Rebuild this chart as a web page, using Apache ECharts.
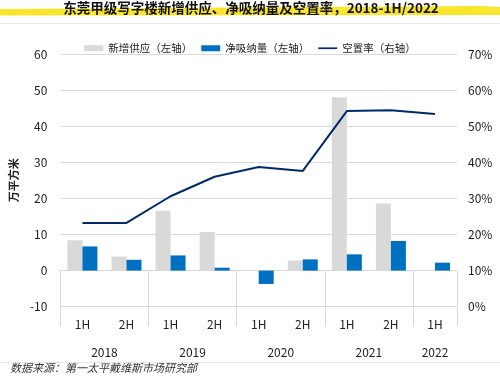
<!DOCTYPE html>
<html><head><meta charset="utf-8">
<script src="https://cdn.jsdelivr.net/npm/echarts@6/dist/echarts.min.js"></script>
<style>html,body{margin:0;padding:0;background:#fff}#c{width:500px;height:378px}</style>
</head><body><div id="c"></div>
<script>
const halves = ['1H','2H','1H','2H','1H','2H','1H','2H','1H'];
const years = ['2018','2019','2020','2021','2022'];
const yearSpans = [2,2,2,2,1];
const supply = [8.4, 3.9, 16.6, 10.7, 0, 2.8, 48.0, 18.6, 0];
const absorption = [6.7, 3.0, 4.2, 0.8, -3.7, 3.1, 4.5, 8.2, 2.2];
const vacancy = [23.2, 23.2, 30.6, 36.0, 38.7, 37.6, 54.2, 54.4, 53.4];
const leftTicks = [-10, 60, 10];
const rightTicks = [0, 70, 10];

const font = '"Noto Sans CJK SC", "Noto Sans", sans-serif';
const yearCenters = {}; const bounds = [0]; let acc = 0;
yearSpans.forEach((s, i) => { yearCenters[(acc + s / 2)] = years[i]; acc += s; bounds.push(acc); });

const chart = echarts.init(document.getElementById('c'), null, {renderer: 'canvas'});
chart.setOption({
  animation: false,
  textStyle: {fontFamily: font},
  grid: {left: 55, right: 43, top: 54, bottom: 71.3, containLabel: false},
  graphic: [
    {type: 'polygon', shape: {points: [[0, 9], [480, 6], [500, 7], [500, 15], [0, 15.5]]}, style: {fill: '#f8e52c'}, z: 0},
    {type: 'text', x: 251, y: 1, style: {text: '东莞甲级写字楼新增供应、净吸纳量及空置率，2018-1H/2022', font: 'bold 13.5px ' + font, fill: '#111', align: 'center'}, z: 1},
    {type: 'line', shape: {x1: 0, y1: 23.5, x2: 500, y2: 23.5}, style: {stroke: '#e8e8e8', lineWidth: 1}},
    {type: 'line', shape: {x1: 0, y1: 362.5, x2: 500, y2: 362.5}, style: {stroke: '#e6e6e6', lineWidth: 1}},
    {type: 'text', left: 10, top: 362, style: {text: '数据来源：第一太平戴维斯市场研究部', font: 'italic 11px ' + font, fill: '#333'}}
  ],
  legend: {
    top: 38, left: 'center', itemGap: 9, itemWidth: 19, itemHeight: 6,
    textStyle: {fontSize: 10.5, color: '#222', fontFamily: font},
    data: [
      {name: '新增供应（左轴）', icon: 'rect'},
      {name: '净吸纳量（左轴）', icon: 'rect'},
      {name: '空置率（右轴）', icon: 'path://M0,0L22,0L22,2L0,2Z'}
    ]
  },
  xAxis: [
    {type: 'category', data: halves, position: 'bottom',
      axisLine: {onZero: false, lineStyle: {color: '#d9d9d9'}},
      axisTick: {show: false},
      axisLabel: {color: '#222', fontSize: 12, margin: 12}},
    {type: 'value', min: 0, max: bounds[bounds.length - 1], position: 'bottom',
      axisLine: {show: false}, splitLine: {show: false},
      axisTick: {show: true, customValues: bounds, length: 56, lineStyle: {color: '#d9d9d9'}},
      axisLabel: {customValues: Object.keys(yearCenters).map(Number), formatter: v => yearCenters[v] || '', color: '#222', fontSize: 12, margin: 40}}
  ],
  yAxis: [
    {type: 'value', min: leftTicks[0], max: leftTicks[1], interval: leftTicks[2],
      name: '万平方米', nameLocation: 'middle', nameGap: 38, nameRotate: 90,
      nameTextStyle: {fontSize: 11, fontWeight: 'bold', color: '#222'},
      axisLine: {show: false}, axisTick: {show: false},
      axisLabel: {color: '#222', fontSize: 12, margin: 13},
      splitLine: {lineStyle: {color: '#d9d9d9'}}},
    {type: 'value', min: rightTicks[0], max: rightTicks[1], interval: rightTicks[2],
      axisLine: {show: false}, axisTick: {show: false},
      axisLabel: {color: '#222', fontSize: 12, margin: 11, formatter: '{value}%'},
      splitLine: {show: false}}
  ],
  series: [
    {name: '新增供应（左轴）', type: 'bar', data: supply, barWidth: 15, barGap: '0%', itemStyle: {color: '#d9d9d9'}},
    {name: '净吸纳量（左轴）', type: 'bar', data: absorption, barWidth: 15, barGap: '0%', itemStyle: {color: '#0070c0'}},
    {name: '空置率（右轴）', type: 'line', yAxisIndex: 1, data: vacancy, symbol: 'none', lineStyle: {color: '#002b6b', width: 2}, itemStyle: {color: '#002b6b'}}
  ]
});
</script></body></html>
